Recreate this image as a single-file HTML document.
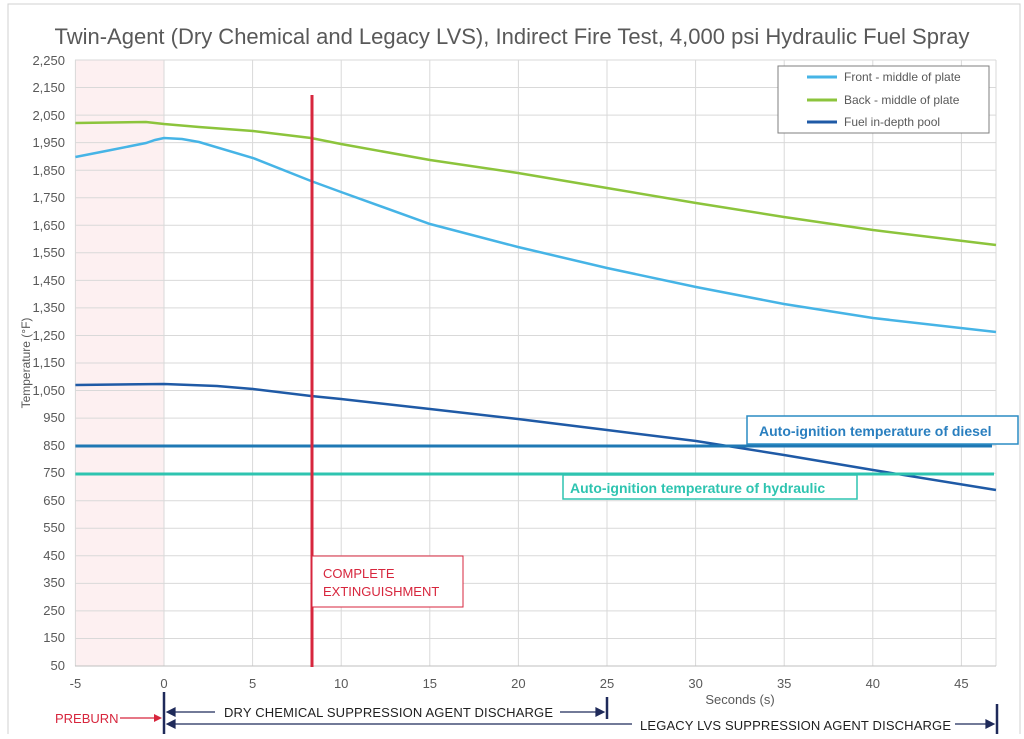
<!DOCTYPE html>
<html><head><meta charset="utf-8"><style>
body{margin:0;background:#fff;width:1024px;height:734px;overflow:hidden}
text{font-family:"Liberation Sans",sans-serif}
</style></head><body>
<svg width="1024" height="734" viewBox="0 0 1024 734" xmlns="http://www.w3.org/2000/svg">
<rect x="8" y="4" width="1012" height="740" fill="none" stroke="#d0d0d0"/>
<text x="512" y="44" text-anchor="middle" font-size="22" fill="#595959">Twin-Agent (Dry Chemical and Legacy LVS), Indirect Fire Test, 4,000 psi Hydraulic Fuel Spray</text>
<rect x="75.4" y="60" width="88.6" height="606" fill="#fdf0f1"/>
<g stroke="#d9d9d9" stroke-width="1">
<path d="M75 60H996M75 87.5H996M75 115.1H996M75 142.6H996M75 170.2H996M75 197.7H996M75 225.3H996M75 252.8H996M75 280.4H996M75 307.9H996M75 335.5H996M75 363H996M75 390.5H996M75 418.1H996M75 445.6H996M75 473.2H996M75 500.7H996M75 528.3H996M75 555.8H996M75 583.4H996M75 610.9H996M75 638.5H996"/>
<path d="M75.4 60V666M164 60V666M252.6 60V666M341.2 60V666M429.8 60V666M518.4 60V666M607 60V666M695.6 60V666M784.2 60V666M872.8 60V666M961.4 60V666M996 60V666"/>
</g>
<line x1="75" y1="666" x2="996" y2="666" stroke="#bfbfbf"/>
<g font-size="13" fill="#595959" text-anchor="end">
<text x="65" y="65">2,250</text><text x="65" y="92">2,150</text><text x="65" y="120">2,050</text><text x="65" y="147">1,950</text><text x="65" y="175">1,850</text><text x="65" y="202">1,750</text><text x="65" y="230">1,650</text><text x="65" y="257">1,550</text><text x="65" y="285">1,450</text><text x="65" y="312">1,350</text><text x="65" y="340">1,250</text><text x="65" y="367">1,150</text><text x="65" y="395">1,050</text><text x="65" y="422">950</text><text x="65" y="450">850</text><text x="65" y="477">750</text><text x="65" y="505">650</text><text x="65" y="532">550</text><text x="65" y="560">450</text><text x="65" y="587">350</text><text x="65" y="615">250</text><text x="65" y="642">150</text><text x="65" y="670">50</text>
</g>
<g stroke="#46b4e6" stroke-width="2.5" fill="none"><path d="M75.4 157L111 150L146 143L155 140L164 138L182 139L199 142L253 158L311 181L341 192L430 224L518 247L607 268L696 287L784 304L873 318L996 332"/></g>
<g stroke="#8cc43c" stroke-width="2.5" fill="none"><path d="M75.4 123L146 122L164 124L199 127L253 131L311 138L341 144L430 160L518 173L607 188L696 203L784 217L873 230L996 245"/></g>
<g stroke="#1f5aa6" stroke-width="2.5" fill="none"><path d="M75.4 385L164 384L217 386L253 389L311 396L341 399L430 409L518 419L607 430L696 441L784 455L873 470L996 490"/></g>
<line x1="75.4" y1="446" x2="992" y2="446" stroke="#1f78b4" stroke-width="3"/>
<line x1="75.4" y1="474" x2="994" y2="474" stroke="#2ec4b0" stroke-width="3"/>
<line x1="312" y1="95" x2="312" y2="667" stroke="#d7263d" stroke-width="3"/>
<rect x="778" y="66" width="211" height="67" fill="#fff" stroke="#7f7f7f"/>
<line x1="807" y1="77" x2="837" y2="77" stroke="#46b4e6" stroke-width="3"/>
<line x1="807" y1="100" x2="837" y2="100" stroke="#8cc43c" stroke-width="3"/>
<line x1="807" y1="122" x2="837" y2="122" stroke="#1f5aa6" stroke-width="3"/>
<g font-size="12" fill="#595959"><text x="844" y="81">Front - middle of plate</text><text x="844" y="104">Back - middle of plate</text><text x="844" y="126">Fuel in-depth pool</text></g>
<rect x="747" y="416" width="271" height="28" fill="#fff" stroke="#2a8cc4" stroke-width="1.5"/>
<text x="759" y="436" font-size="14" font-weight="bold" fill="#2a7fbf">Auto-ignition temperature of diesel</text>
<rect x="563" y="475" width="294" height="24" fill="#fff" stroke="#2ec4b0" stroke-width="1.5"/>
<text x="570" y="493" font-size="14" font-weight="bold" fill="#2ec4b0">Auto-ignition temperature of hydraulic</text>
<rect x="312" y="556" width="151" height="51" fill="#fff" stroke="#d7263d"/>
<g font-size="13" fill="#d7263d"><text x="323" y="578">COMPLETE</text><text x="323" y="596">EXTINGUISHMENT</text></g>
<text transform="translate(30,363) rotate(-90)" text-anchor="middle" font-size="12" fill="#595959">Temperature (°F)</text>
<g font-size="13" fill="#595959" text-anchor="middle">
<text x="75.4" y="688">-5</text><text x="164" y="688">0</text><text x="252.6" y="688">5</text><text x="341.2" y="688">10</text><text x="429.8" y="688">15</text><text x="518.4" y="688">20</text><text x="607" y="688">25</text><text x="695.6" y="688">30</text><text x="784.2" y="688">35</text><text x="872.8" y="688">40</text><text x="961.4" y="688">45</text>
<text x="740" y="704">Seconds (s)</text>
</g>
<g stroke="#1f2a5a" stroke-width="2.5"><line x1="164" y1="692" x2="164" y2="734"/><line x1="607" y1="697" x2="607" y2="719"/><line x1="997" y1="704" x2="997" y2="734"/></g>
<g stroke="#1f2a5a" stroke-width="1.2" fill="#1f2a5a">
<line x1="168" y1="712" x2="215" y2="712"/><path d="M167 712l8-4v8z"/>
<line x1="560" y1="712" x2="603" y2="712"/><path d="M604 712l-8-4v8z"/>
<line x1="168" y1="724" x2="632" y2="724"/><path d="M167 724l8-4v8z"/>
<line x1="955" y1="724" x2="993" y2="724"/><path d="M994 724l-8-4v8z"/>
</g>
<line x1="120" y1="718" x2="157" y2="718" stroke="#d7263d" stroke-width="1.2"/><path d="M162 718l-8-4v8z" fill="#d7263d"/>
<text x="55" y="723" font-size="13" fill="#d7263d">PREBURN</text>
<g font-size="13" fill="#1f1f1f"><text x="224" y="717" textLength="329">DRY CHEMICAL SUPPRESSION AGENT DISCHARGE</text><text x="640" y="730" textLength="311">LEGACY LVS SUPPRESSION AGENT DISCHARGE</text></g>
</svg>
</body></html>
